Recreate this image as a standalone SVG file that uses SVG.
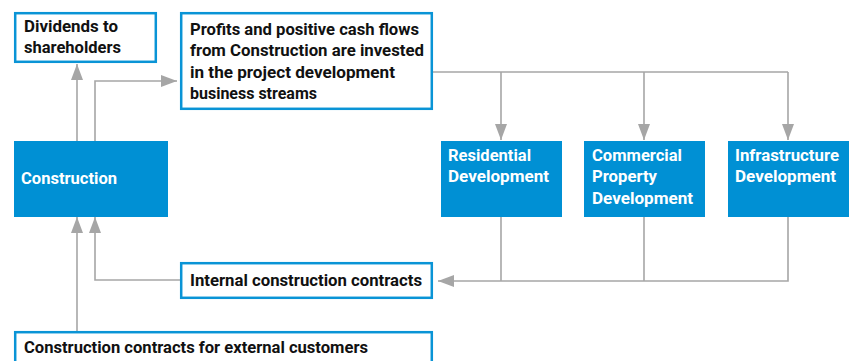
<svg xmlns="http://www.w3.org/2000/svg" width="854" height="361" viewBox="0 0 854 361">
<style>
.box{fill:#fff;stroke:#0a94d6;stroke-width:2.5}
.fill{fill:#0090d4}
.t{font-family:Roboto,"Liberation Sans",sans-serif;font-weight:bold;font-size:16px;fill:#111}
.w{fill:#fff}
.ln{fill:none;stroke:#a6a6a6;stroke-width:1.6}
</style>
<defs>
<marker id="ah" viewBox="0 0 16 12" refX="16" refY="6" markerWidth="16" markerHeight="12" markerUnits="userSpaceOnUse" orient="auto">
<path d="M0,0 L16,6 L0,12 Z" fill="#a6a6a6"/>
</marker>
</defs>
<rect width="854" height="361" fill="#fff"/>
<g id="connectors">
<path class="ln" d="M77,141 V64" marker-end="url(#ah)"/>
<path class="ln" d="M95,141 V81 H177" marker-end="url(#ah)"/>
<path class="ln" d="M433,72 H788"/>
<path class="ln" d="M501,72 V140" marker-end="url(#ah)"/>
<path class="ln" d="M644,72 V140" marker-end="url(#ah)"/>
<path class="ln" d="M788,72 V140" marker-end="url(#ah)"/>
<path class="ln" d="M501,217 V281"/>
<path class="ln" d="M644,217 V281"/>
<path class="ln" d="M788,217 V281 H438" marker-end="url(#ah)"/>
<path class="ln" d="M180,280 H95 V217" marker-end="url(#ah)"/>
<path class="ln" d="M77,331 V217" marker-end="url(#ah)"/>
</g>
<g id="dividends">
<rect class="box" x="15.2" y="13.2" width="140.6" height="48.6"/>
<text class="t" x="24" y="32" textLength="94" lengthAdjust="spacingAndGlyphs">Dividends to</text>
<text class="t" x="24" y="53" textLength="97" lengthAdjust="spacingAndGlyphs">shareholders</text>
</g>
<g id="profits">
<rect class="box" x="181.2" y="13.2" width="250.6" height="95.6"/>
<text class="t" x="190" y="35" textLength="229" lengthAdjust="spacingAndGlyphs">Profits and positive cash flows</text>
<text class="t" x="190" y="56" textLength="234" lengthAdjust="spacingAndGlyphs">from Construction are invested</text>
<text class="t" x="190" y="78" textLength="205" lengthAdjust="spacingAndGlyphs">in the project development</text>
<text class="t" x="190" y="99" textLength="127" lengthAdjust="spacingAndGlyphs">business streams</text>
</g>
<g id="construction">
<rect class="fill" x="14" y="141" width="154" height="76"/>
<text class="t w" x="21" y="184" textLength="96" lengthAdjust="spacingAndGlyphs">Construction</text>
</g>
<g id="residential">
<rect class="fill" x="441" y="141" width="121" height="76"/>
<text class="t w" x="448" y="161" textLength="83" lengthAdjust="spacingAndGlyphs">Residential</text>
<text class="t w" x="448" y="182" textLength="101" lengthAdjust="spacingAndGlyphs">Development</text>
</g>
<g id="commercial">
<rect class="fill" x="584" y="141" width="121" height="76"/>
<text class="t w" x="592" y="161" textLength="90" lengthAdjust="spacingAndGlyphs">Commercial</text>
<text class="t w" x="592" y="182" textLength="65" lengthAdjust="spacingAndGlyphs">Property</text>
<text class="t w" x="592" y="204" textLength="101" lengthAdjust="spacingAndGlyphs">Development</text>
</g>
<g id="infrastructure">
<rect class="fill" x="728" y="141" width="121" height="76"/>
<text class="t w" x="735" y="161" textLength="104" lengthAdjust="spacingAndGlyphs">Infrastructure</text>
<text class="t w" x="735" y="182" textLength="101" lengthAdjust="spacingAndGlyphs">Development</text>
</g>
<g id="internal">
<rect class="box" x="181.2" y="263.2" width="250.6" height="34.6"/>
<text class="t" x="190" y="286" textLength="232" lengthAdjust="spacingAndGlyphs">Internal construction contracts</text>
</g>
<g id="external">
<rect class="box" x="15.2" y="332.2" width="416.6" height="40"/>
<text class="t" x="24" y="353" textLength="344" lengthAdjust="spacingAndGlyphs">Construction contracts for external customers</text>
</g>
</svg>
